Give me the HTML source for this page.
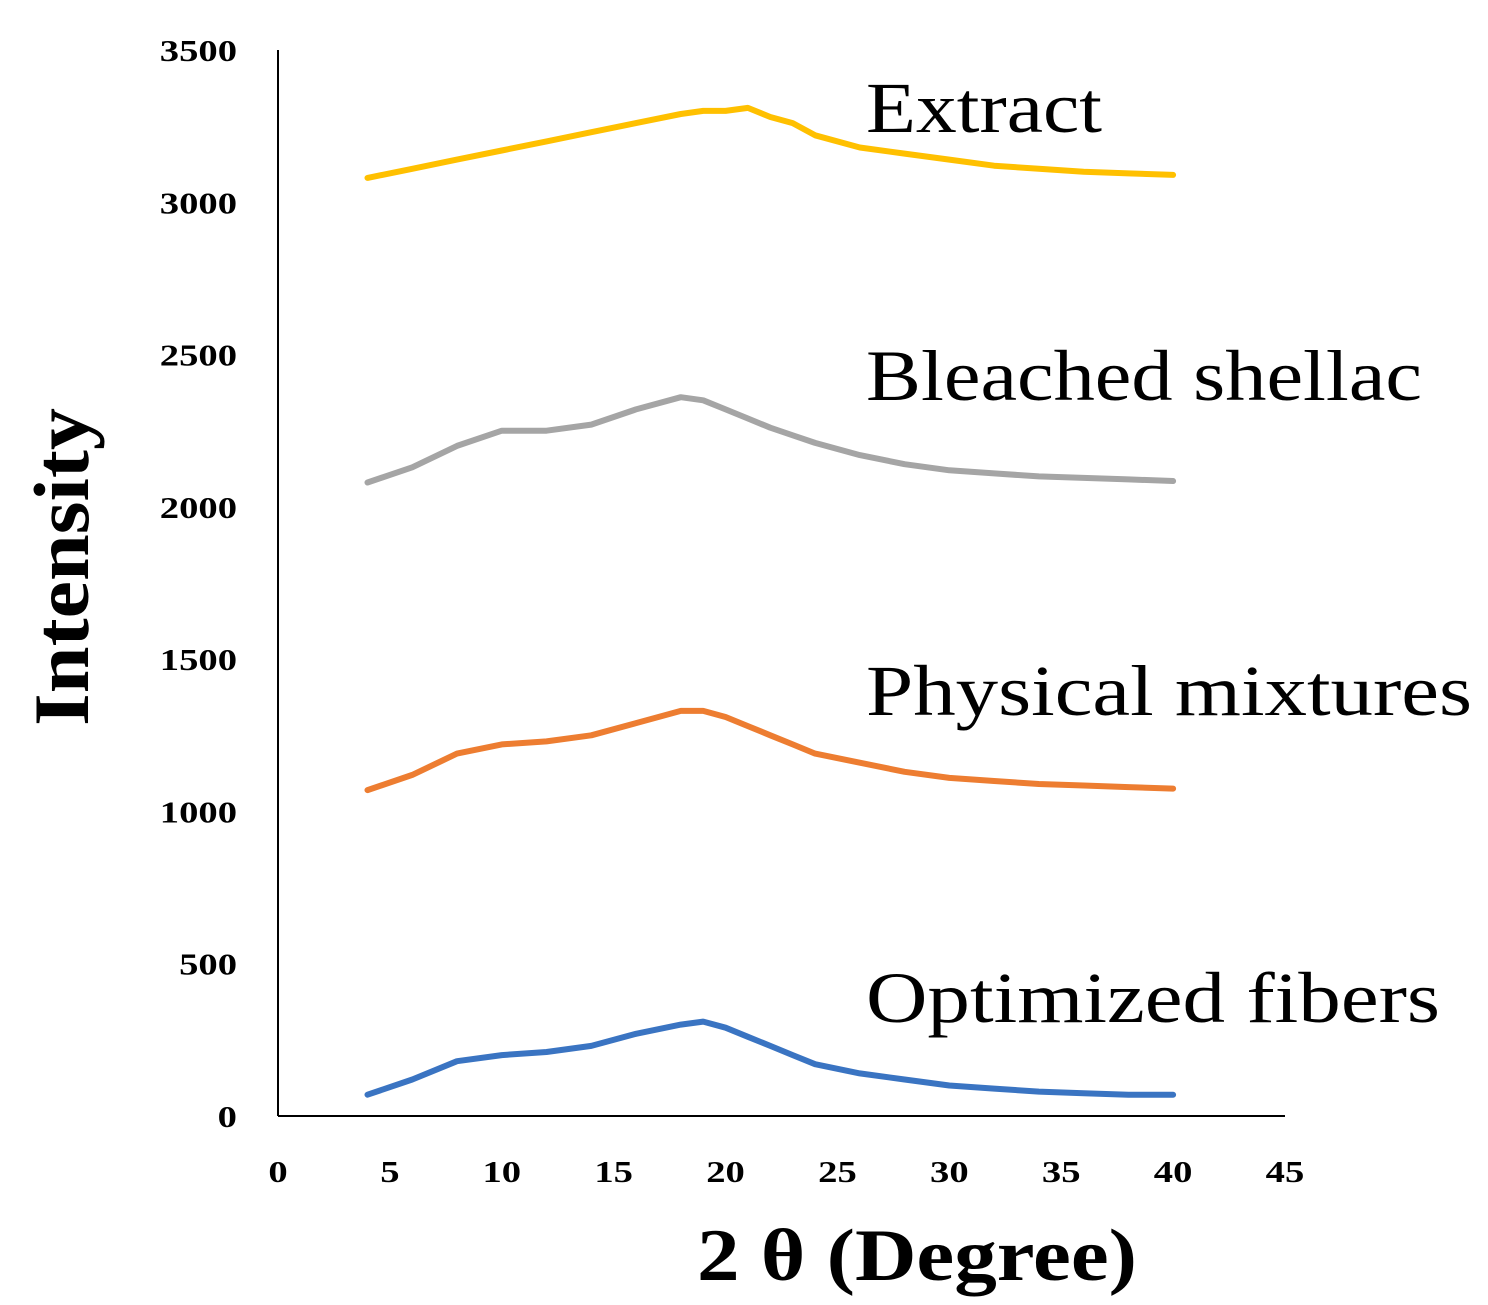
<!DOCTYPE html>
<html><head><meta charset="utf-8"><style>
html,body{margin:0;padding:0;background:#fff;}
svg{display:block;}
</style></head><body>
<svg id="chart" width="1488" height="1305" viewBox="0 0 1488 1305" xmlns="http://www.w3.org/2000/svg">
<g id="axes"></g>
<g id="series"></g>
<g id="labels"></g>
</svg>
<script>
const xTicks = [0,5,10,15,20,25,30,35,40,45];
const yTicks = [0,500,1000,1500,2000,2500,3000,3500];
const angles = [4,6,8,10,12,14,16,18,19,20,21,22,23,24,26,28,30,32,34,36,38,40];
const extractVals   = [3080,3110,3140,3170,3200,3230,3260,3290,3300,3300,3310,3280,3260,3220,3180,3160,3140,3120,3110,3100,3095,3090];
const bleachedVals  = [2080,2130,2200,2250,2250,2270,2320,2360,2350,2320,2290,2260,2235,2210,2170,2140,2120,2110,2100,2095,2090,2085];
const physicalVals  = [1070,1120,1190,1220,1230,1250,1290,1330,1330,1310,1280,1250,1220,1190,1160,1130,1110,1100,1090,1085,1080,1075];
const optimizedVals = [70,120,180,200,210,230,270,300,310,290,260,230,200,170,140,120,100,90,80,75,70,70];
const seriesNames = ["Extract","Bleached shellac","Physical mixtures","Optimized fibers"];
const seriesColors = ["#FFC000","#A5A5A5","#ED7D31","#3A74C2"];
const seriesData = [extractVals,bleachedVals,physicalVals,optimizedVals];
const labelBaselines = [132,400,715,1022];
const labelWidths = [236,556,606,574];

const NS="http://www.w3.org/2000/svg";
const X0=278,X1=1285,Y0=1116,Y1=50;
const xs=v=>X0+(v-0)/45*(X1-X0);
const ys=v=>Y0-(v-0)/3500*(Y0-Y1);
function mk(tag,attrs,parent){const e=document.createElementNS(NS,tag);for(const k in attrs)e.setAttribute(k,attrs[k]);parent.appendChild(e);return e;}
const axes=document.getElementById('axes');
let yl=mk('line',{x1:X0,y1:Y1,x2:X0,y2:Y0,stroke:'#000','stroke-width':2},axes);


let xl=mk('line',{x1:X0,y1:Y0,x2:X1,y2:Y0,stroke:'#000','stroke-width':2},axes);


yTicks.forEach(v=>{
  const s=String(v);
  const t=mk('text',{x:237,y:ys(v)+11,'text-anchor':'end','font-family':'Liberation Serif, serif','font-weight':'bold','font-size':31,textLength:s.length*19.3,lengthAdjust:'spacingAndGlyphs'},axes);
  t.textContent=s;
  
  
});
xTicks.forEach(v=>{
  const s=String(v);
  const t=mk('text',{x:xs(v),y:1182,'text-anchor':'middle','font-family':'Liberation Serif, serif','font-weight':'bold','font-size':31,textLength:s.length*19.3,lengthAdjust:'spacingAndGlyphs'},axes);
  t.textContent=s;
  
  
});
const sg=document.getElementById('series');
seriesData.forEach((vals,i)=>{
  const d=vals.map((v,j)=>(j?'L':'M')+xs(angles[j]).toFixed(1)+','+ys(v).toFixed(1)).join(' ');
  const p=mk('path',{d:d,fill:'none',stroke:seriesColors[i],'stroke-width':6,'stroke-linejoin':'round','stroke-linecap':'round'},sg);
  
  
});
const lg=document.getElementById('labels');
seriesNames.forEach((n,i)=>{
  const t=mk('text',{x:866,y:labelBaselines[i],'font-family':'Liberation Serif, serif','font-size':72,textLength:labelWidths[i],lengthAdjust:'spacingAndGlyphs'},lg);
  t.textContent=n;
  
  
});
const yt=mk('text',{x:0,y:0,transform:'translate(88,567) rotate(-90)','text-anchor':'middle','font-family':'Liberation Serif, serif','font-weight':'bold','font-size':78,textLength:318,lengthAdjust:'spacingAndGlyphs'},lg);
yt.textContent='Intensity';


const xt=mk('text',{x:917,y:1280,'text-anchor':'middle','font-family':'Liberation Serif, serif','font-weight':'bold','font-size':74,textLength:440,lengthAdjust:'spacingAndGlyphs'},lg);
xt.textContent='2 θ (Degree)';


</script>
</body></html>
